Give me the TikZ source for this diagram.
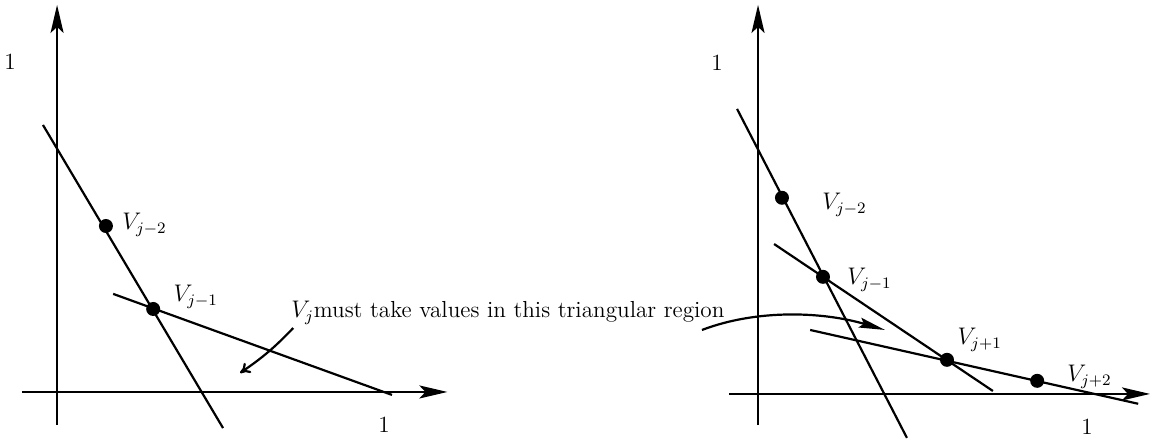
\documentclass[tikz,border=0pt]{standalone}
\usetikzlibrary{arrows.meta}
\tikzset{
    axisarrow/.style={-{Stealth[length=14pt, width=6.5pt, inset=3pt]}, line width=1.1pt},
    cutline/.style={line width=1.1pt},
    vertex/.style={circle, fill=black, inner sep=0pt, minimum size=7pt},
    vlabel/.style={anchor=west, inner sep=0pt},
    pointer/.style={-{To[length=5pt, width=6pt]}, line width=1.1pt},
    bigpointer/.style={-{Stealth[length=13pt, width=5pt, inset=2pt]}, line width=1.1pt},
}

\begin{document}
\begin{tikzpicture}[x=164pt, y=164pt, font=\fontsize{11.6}{14}\selectfont]
    \useasboundingbox (-0.174,-0.146) rectangle (3.335,1.195);

    % Pannello sinistro: assi
    \coordinate (lxa) at (-0.107,0);
    \coordinate (lxb) at (1.19,0);
    \coordinate (lya) at (0,-0.10);
    \coordinate (lyb) at (0,1.18);
    \draw[axisarrow] (lxa) -- (lxb);
    \draw[axisarrow] (lya) -- (lyb);
    \node (lonex) at (0.997,-0.10) {1};
    \node (loney) at (-0.143,1.006) {1};

    % Rette e vertici
    \coordinate (lsa) at (-0.043,0.814);
    \coordinate (lsb) at (0.506,-0.110);
    \coordinate (lta) at (0.171,0.299);
    \coordinate (ltb) at (1.021,-0.009);
    \draw[cutline] (lsa) -- (lsb);
    \draw[cutline] (lta) -- (ltb);
    \node[vertex] (lvm2) at (0.149,0.506) {};
    \node[vertex] (lvm1) at (0.293,0.253) {};
    \node[vlabel] (llm2) at (0.198,0.509) {$V_{j-2}$};
    \node[vlabel] (llm1) at (0.354,0.290) {$V_{j-1}$};

    % Regione triangolare
    \node[vlabel] (region) at (0.713,0.241) {$V_j$must take values in this triangular region};
    \coordinate (pa) at (0.720,0.195);
    \coordinate (pb) at (0.558,0.058);
    \draw[pointer] (pa) to[bend left=6] (pb);

    % Pannello destro
    \begin{scope}[xshift=2.137*164pt, yshift=-0.006*164pt]
        \coordinate (rxa) at (-0.088,0);
        \coordinate (rxb) at (1.195,0);
        \coordinate (rya) at (0,-0.095);
        \coordinate (ryb) at (0,1.186);
        \draw[axisarrow] (rxa) -- (rxb);
        \draw[axisarrow] (rya) -- (ryb);
        \node (ronex) at (1.003,-0.10) {1};
        \node (roney) at (-0.125,1.009) {1};

        \coordinate (rsa) at (-0.064,0.869);
        \coordinate (rsb) at (0.454,-0.134);
        \coordinate (rta) at (0.049,0.457);
        \coordinate (rtb) at (0.716,0.009);
        \coordinate (rua) at (0.159,0.195);
        \coordinate (rub) at (1.159,-0.030);
        \draw[cutline] (rsa) -- (rsb);
        \draw[cutline] (rta) -- (rtb);
        \draw[cutline] (rua) -- (rub);

        \node[vertex] (rvm2) at (0.073,0.598) {};
        \node[vertex] (rvm1) at (0.198,0.357) {};
        \node[vertex] (rvp1) at (0.576,0.104) {};
        \node[vertex] (rvp2) at (0.851,0.040) {};
        \node[vlabel] (rlm2) at (0.195,0.576) {$V_{j-2}$};
        \node[vlabel] (rlm1) at (0.271,0.348) {$V_{j-1}$};
        \node[vlabel] (rlp1) at (0.607,0.165) {$V_{j+1}$};
        \node[vlabel] (rlp2) at (0.942,0.052) {$V_{j+2}$};

        % Freccia curva
        \coordinate (ca) at (-0.171,0.195);
        \coordinate (cb) at (0.387,0.195);
        \draw[bigpointer] (ca) .. controls (0.0,0.26) and (0.2,0.25) .. (cb);
    \end{scope}
\end{tikzpicture}
\end{document}
